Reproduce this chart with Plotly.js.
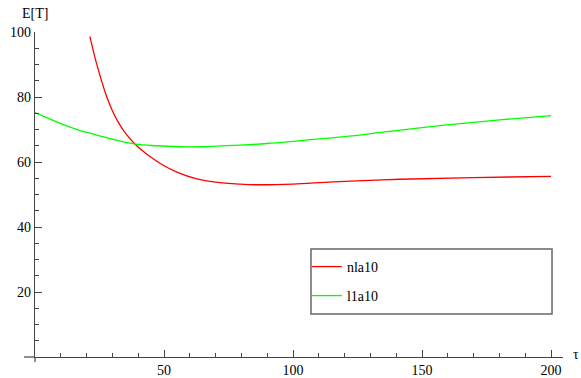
<!DOCTYPE html>
<html>
<head>
<meta charset="utf-8">
<script src="https://cdn.plot.ly/plotly-3.0.1.min.js"></script>
<style>
html,body{margin:0;padding:0;background:#fff;}
#chart{width:581px;height:378px;}
</style>
</head>
<body>
<div id="chart"></div>
<script>
// Series
const redName = "nla10";
const redX = [21.3, 23.9, 27.8, 30, 32.3, 35.5, 39, 44, 49.7, 55, 62.7, 70, 79.5, 86, 100, 115.5, 141.5, 170, 200];
const redY = [98.6, 90.2, 80.1, 75.8, 72.2, 68.4, 65.3, 62.0, 59.0, 56.9, 54.8, 53.8, 53.2, 53.0, 53.2, 53.9, 54.7, 55.2, 55.6];

const greenName = "l1a10";
const greenX = [0, 5, 11, 17, 24, 31, 39, 47, 56, 64, 79.5, 90, 103, 120, 134, 150, 170, 185, 200];
const greenY = [75.2, 73.5, 71.5, 69.8, 68.3, 66.8, 65.5, 65.0, 64.7, 64.7, 65.2, 65.7, 66.6, 67.8, 69.1, 70.6, 72.2, 73.3, 74.3];

const xTickVals = [50, 100, 150, 200];
const yTickVals = [20, 40, 60, 80, 100];
const yLabel = "E[T]";
const xLabel = "τ";

const font = {family: "Times New Roman, Liberation Serif, DejaVu Serif, serif", size: 14, color: "#000"};
const axisColor = "#444";

const traces = [
  {x: redX, y: redY, name: redName, type: "scatter", mode: "lines",
   line: {color: "#ff0000", width: 1.3, shape: "spline", smoothing: 1}, legend: "legend"},
  {x: greenX, y: greenY, name: greenName, type: "scatter", mode: "lines",
   line: {color: "#00ff00", width: 1.3, shape: "spline", smoothing: 1}, legend: "legend2"}
];

const legendCommon = {
  xanchor: "left", yanchor: "middle", bgcolor: "rgba(0,0,0,0)", borderwidth: 0,
  font: font
};

const layout = {
  width: 581, height: 378,
  margin: {l: 35, r: 18, t: 32, b: 21, pad: 0},
  paper_bgcolor: "#fff", plot_bgcolor: "#fff",
  font: font,
  showlegend: true,
  xaxis: {
    range: [0, 204.65], showgrid: false, zeroline: false,
    showline: true, linecolor: axisColor, linewidth: 1.2,
    tickvals: xTickVals, ticktext: xTickVals.map(String),
    ticks: "inside", ticklen: 7, tickcolor: axisColor, tickwidth: 1,
    minor: {dtick: 10, tick0: 0, ticks: "inside", ticklen: 4, tickcolor: axisColor, tickwidth: 1, showgrid: false},
    tickfont: font, fixedrange: true
  },
  yaxis: {
    range: [0, 100], showgrid: false, zeroline: false,
    showline: true, linecolor: axisColor, linewidth: 1.2,
    tickvals: yTickVals, ticktext: yTickVals.map(String),
    ticks: "inside", ticklen: 7, tickcolor: axisColor, tickwidth: 1,
    minor: {dtick: 5, tick0: 0, ticks: "inside", ticklen: 4, tickcolor: axisColor, tickwidth: 1, showgrid: false},
    tickfont: font, fixedrange: true
  },
  legend: Object.assign({x: 0.515, y: 0.277}, legendCommon),
  legend2: Object.assign({x: 0.515, y: 0.1877}, legendCommon),
  shapes: [
    {type: "line", xref: "paper", yref: "paper", x0: -0.0208, x1: 0, y0: 0, y1: 0,
     line: {color: axisColor, width: 1.2}},
    {type: "line", xref: "paper", yref: "paper", x0: 0, x1: 0, y0: -0.0154, y1: 0,
     line: {color: axisColor, width: 1.2}},
    {type: "rect", xref: "paper", yref: "paper", x0: 0.5227, x1: 0.9792, y0: 0.1323, y1: 0.3323,
     line: {color: "#666", width: 1.5}, fillcolor: "rgba(0,0,0,0)", layer: "above"}
  ],
  annotations: [
    {text: yLabel, xref: "paper", yref: "paper", x: 0, y: 1.058, xanchor: "center", yanchor: "middle",
     showarrow: false, font: font},
    {text: xLabel, xref: "paper", yref: "paper", x: 1.0246, y: 0.009, xanchor: "center", yanchor: "middle",
     showarrow: false, font: font}
  ]
};

Plotly.newPlot("chart", traces, layout, {displayModeBar: false, staticPlot: true});
</script>
</body>
</html>
